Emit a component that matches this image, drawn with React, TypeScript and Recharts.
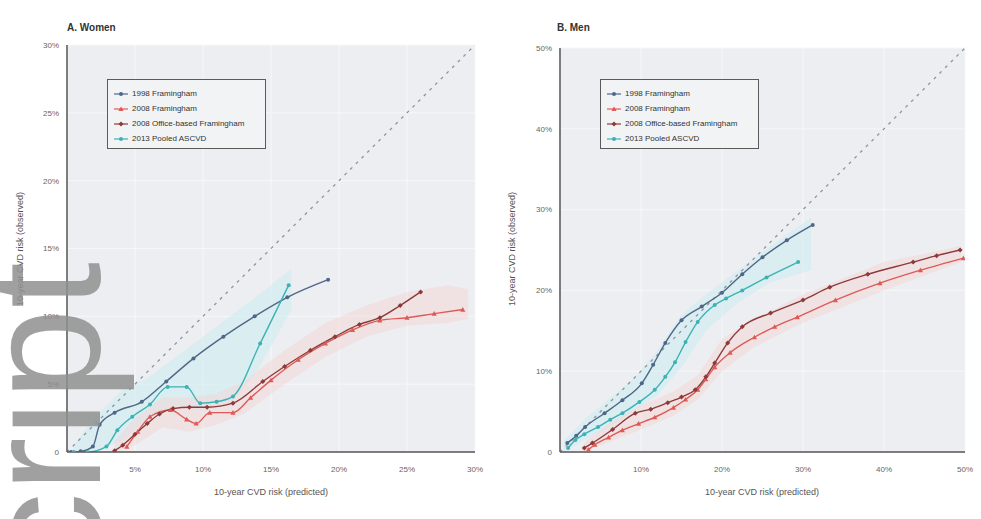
import React from 'react';
import { ComposedChart, Line, Area, XAxis, YAxis, CartesianGrid } from 'recharts';

const SERIES_NAMES = ['1998 Framingham', '2008 Framingham', '2008 Office-based Framingham', '2013 Pooled ASCVD'];
const COLORS = ['#4f6787', '#de5a56', '#8c3a3a', '#3db2b4'];
const SHAPES = ['circle', 'triangle', 'diamond', 'circle'];

const W_X_TICKS = [5, 10, 15, 20, 25, 30];
const W_Y_TICKS = [0, 5, 10, 15, 20, 25, 30];
const M_X_TICKS = [10, 20, 30, 40, 50];
const M_Y_TICKS = [0, 10, 20, 30, 40, 50];

// Women
const wF1998 = [
  { x: 0.3, y: 0 }, { x: 1.0, y: 0.05 }, { x: 1.9, y: 0.4 }, { x: 2.4, y: 2.0 }, { x: 3.5, y: 2.9 },
  { x: 5.5, y: 3.7 }, { x: 7.3, y: 5.2 }, { x: 9.3, y: 6.9 }, { x: 11.5, y: 8.5 }, { x: 13.8, y: 10.0 },
  { x: 16.2, y: 11.4 }, { x: 19.2, y: 12.7 },
];
const wF2008 = [
  { x: 4.4, y: 0.4 }, { x: 5.2, y: 1.5 }, { x: 6.1, y: 2.6 }, { x: 7.6, y: 3.1 }, { x: 8.8, y: 2.4 },
  { x: 9.5, y: 2.1 }, { x: 10.5, y: 2.9 }, { x: 12.2, y: 2.9 }, { x: 13.5, y: 4.0 }, { x: 15.0, y: 5.3 },
  { x: 17.0, y: 6.8 }, { x: 19.0, y: 8.0 }, { x: 21.0, y: 9.0 }, { x: 23.0, y: 9.7 }, { x: 25.0, y: 9.9 },
  { x: 27.0, y: 10.2 }, { x: 29.1, y: 10.5 },
];
const wOffice = [
  { x: 3.5, y: 0.1 }, { x: 4.1, y: 0.5 }, { x: 5.0, y: 1.3 }, { x: 5.9, y: 2.1 }, { x: 6.8, y: 2.8 },
  { x: 7.8, y: 3.2 }, { x: 9.0, y: 3.3 }, { x: 10.3, y: 3.3 }, { x: 12.2, y: 3.6 }, { x: 14.4, y: 5.2 },
  { x: 16.0, y: 6.3 }, { x: 17.9, y: 7.5 }, { x: 19.7, y: 8.5 }, { x: 21.5, y: 9.4 }, { x: 23.0, y: 9.9 },
  { x: 24.5, y: 10.8 }, { x: 26.0, y: 11.8 },
];
const wPooled = [
  { x: 0.5, y: 0 }, { x: 1.5, y: 0 }, { x: 2.9, y: 0.4 }, { x: 3.7, y: 1.6 }, { x: 4.8, y: 2.6 },
  { x: 6.1, y: 3.5 }, { x: 7.4, y: 4.8 }, { x: 8.8, y: 4.8 }, { x: 9.8, y: 3.6 }, { x: 11.0, y: 3.7 },
  { x: 12.2, y: 4.1 }, { x: 14.2, y: 8.0 }, { x: 16.3, y: 12.3 },
];
const wBlueBand = [
  { x: 0.5, lo: 0, hi: 0.5 }, { x: 2, lo: 0, hi: 2.5 }, { x: 4, lo: 0.8, hi: 4.5 }, { x: 6, lo: 2.5, hi: 5.5 },
  { x: 8, lo: 3.5, hi: 7 }, { x: 10, lo: 3, hi: 8.5 }, { x: 12, lo: 3.5, hi: 10 }, { x: 14, lo: 6, hi: 11.5 },
  { x: 16.5, lo: 10.5, hi: 13.5 },
];
const wRedBand = [
  { x: 3.5, lo: 0, hi: 0.8 }, { x: 5, lo: 0.5, hi: 2.5 }, { x: 7, lo: 1.8, hi: 4 }, { x: 9, lo: 1.5, hi: 4 },
  { x: 11, lo: 2, hi: 4.3 }, { x: 13, lo: 2.8, hi: 5.2 }, { x: 16, lo: 5, hi: 7.5 }, { x: 19, lo: 7, hi: 9.5 },
  { x: 22, lo: 8.5, hi: 10.8 }, { x: 25, lo: 9.3, hi: 11.8 }, { x: 28, lo: 9.5, hi: 12.3 }, { x: 29.5, lo: 9.8, hi: 12 },
];
const wDiagonal = [{ x: 0, y: 0 }, { x: 30, y: 30 }];

// Men
const mF1998 = [
  { x: 0.9, y: 1.1 }, { x: 2.0, y: 2.0 }, { x: 3.1, y: 3.1 }, { x: 5.5, y: 4.8 }, { x: 7.7, y: 6.4 },
  { x: 10.1, y: 8.5 }, { x: 11.5, y: 10.8 }, { x: 13.0, y: 13.5 }, { x: 15.0, y: 16.3 }, { x: 17.5, y: 18.0 },
  { x: 20.0, y: 19.7 }, { x: 22.5, y: 22.0 }, { x: 25.0, y: 24.1 }, { x: 28.0, y: 26.2 }, { x: 31.2, y: 28.1 },
];
const mF2008 = [
  { x: 3.5, y: 0.3 }, { x: 4.3, y: 0.9 }, { x: 6.0, y: 1.8 }, { x: 7.7, y: 2.7 }, { x: 9.7, y: 3.5 },
  { x: 11.7, y: 4.3 }, { x: 14.0, y: 5.5 }, { x: 15.5, y: 6.5 }, { x: 17.0, y: 7.7 }, { x: 18.0, y: 9.0 },
  { x: 19.1, y: 10.5 }, { x: 21.0, y: 12.3 }, { x: 24.0, y: 14.2 }, { x: 26.5, y: 15.5 }, { x: 29.3, y: 16.7 },
  { x: 34.0, y: 18.8 }, { x: 39.5, y: 20.9 }, { x: 44.5, y: 22.5 }, { x: 49.8, y: 24.0 },
];
const mOffice = [
  { x: 3.0, y: 0.5 }, { x: 4.0, y: 1.1 }, { x: 6.5, y: 2.8 }, { x: 9.3, y: 4.8 }, { x: 11.2, y: 5.3 },
  { x: 13.3, y: 6.1 }, { x: 15.0, y: 6.8 }, { x: 16.7, y: 7.7 }, { x: 18.0, y: 9.3 }, { x: 19.1, y: 11.0 },
  { x: 20.7, y: 13.5 }, { x: 22.5, y: 15.5 }, { x: 26.0, y: 17.2 }, { x: 30.0, y: 18.8 }, { x: 33.3, y: 20.4 },
  { x: 38.0, y: 22.0 }, { x: 43.6, y: 23.5 }, { x: 46.5, y: 24.3 }, { x: 49.4, y: 25.0 },
];
const mPooled = [
  { x: 1.0, y: 0.5 }, { x: 1.9, y: 1.5 }, { x: 3.0, y: 2.2 }, { x: 4.7, y: 3.1 }, { x: 6.2, y: 4.0 },
  { x: 7.7, y: 4.8 }, { x: 9.8, y: 6.2 }, { x: 11.7, y: 7.7 }, { x: 13.0, y: 9.3 }, { x: 14.2, y: 11.1 },
  { x: 15.5, y: 13.6 }, { x: 17.0, y: 16.1 }, { x: 19.1, y: 18.2 }, { x: 20.5, y: 19.0 }, { x: 22.5, y: 20.0 },
  { x: 25.5, y: 21.6 }, { x: 29.4, y: 23.5 },
];
const mBlueBand = [
  { x: 0.5, lo: 0, hi: 1.5 }, { x: 3, lo: 1.5, hi: 4 }, { x: 6, lo: 3, hi: 6.5 }, { x: 9, lo: 5, hi: 9 },
  { x: 12, lo: 7, hi: 12.5 }, { x: 15, lo: 10.5, hi: 17 }, { x: 18, lo: 15, hi: 19.5 }, { x: 22, lo: 18.5, hi: 22.5 },
  { x: 26, lo: 21, hi: 25.5 }, { x: 31, lo: 22.5, hi: 29 },
];
const mRedBand = [
  { x: 3, lo: 0, hi: 1.2 }, { x: 6, lo: 1.2, hi: 3.5 }, { x: 10, lo: 2.8, hi: 5.8 }, { x: 14, lo: 4.5, hi: 7.5 },
  { x: 17, lo: 6.5, hi: 9.5 }, { x: 20, lo: 10, hi: 14 }, { x: 24, lo: 13, hi: 16.5 }, { x: 30, lo: 16, hi: 19.5 },
  { x: 40, lo: 20, hi: 23.5 }, { x: 49.5, lo: 23.5, hi: 25.5 },
];
const mDiagonal = [{ x: 0, y: 0 }, { x: 50, y: 50 }];

const FONT = '"Liberation Sans", Arial, sans-serif';

function Marker({ shape, color, cx, cy, size = 2 }: any) {
  if (shape === 'triangle') {
    const s = size + 0.6;
    return <polygon points={`${cx},${cy - s} ${cx + s},${cy + s * 0.8} ${cx - s},${cy + s * 0.8}`} fill={color} />;
  }
  if (shape === 'diamond') {
    const s = size + 0.5;
    return <polygon points={`${cx},${cy - s} ${cx + s},${cy} ${cx},${cy + s} ${cx - s},${cy}`} fill={color} />;
  }
  return <circle cx={cx} cy={cy} r={size} fill={color} />;
}

const makeDot = (i: number) => (props: any) => {
  const { cx, cy, index } = props;
  if (cx == null || cy == null) return <g key={`d${i}-${index}`} />;
  return (
    <g key={`d${i}-${index}`}>
      <Marker shape={SHAPES[i]} color={COLORS[i]} cx={cx} cy={cy} />
    </g>
  );
};

const pct = (v: number) => (v === 0 ? '0' : `${v}%`);
const bandKey = (d: any) => [d.lo, d.hi];

function LegendBox({ left, top }: { left: number; top: number }) {
  return (
    <div
      style={{
        position: 'absolute', left, top, width: 159, height: 70, border: '1.5px solid #5a5a5a',
        background: '#f2f3f5', fontFamily: FONT, fontSize: 8, color: '#333', boxSizing: 'border-box',
        padding: '6px 0 0 6px',
      }}
    >
      {SERIES_NAMES.map((n, i) => (
        <div key={n} style={{ display: 'flex', alignItems: 'center', height: 15 }}>
          <svg width={14} height={10} style={{ marginRight: 4 }}>
            <line x1={0} y1={5} x2={14} y2={5} stroke={COLORS[i]} strokeWidth={1.2} />
            <Marker shape={SHAPES[i]} color={COLORS[i]} cx={7} cy={5} />
          </svg>
          <span>{n}</span>
        </div>
      ))}
    </div>
  );
}

function Panel(props: any) {
  const { width, margin, xMax, yMax, xTicks, yTicks, series, blueBand, redBand, diagonal } = props;
  return (
    <ComposedChart width={width} height={519} margin={margin}>
      <CartesianGrid fill="#eceef1" stroke="#f6f7f9" strokeWidth={1} />
      <XAxis
        dataKey="x" type="number" domain={[0, xMax]} ticks={xTicks} tickFormatter={pct}
        allowDataOverflow height={30} tickLine={false} tickMargin={8}
        axisLine={{ stroke: '#555', strokeWidth: 1.5 }}
        tick={{ fontSize: 8, fill: '#666', fontFamily: FONT }}
      />
      <YAxis
        dataKey="y" type="number" domain={[0, yMax]} ticks={yTicks} tickFormatter={pct}
        allowDataOverflow width={40} tickLine={false}
        axisLine={{ stroke: '#555', strokeWidth: 1.5 }}
        tick={{ fontSize: 8, fill: '#666', fontFamily: FONT }}
      />
      <Area data={blueBand} dataKey={bandKey} stroke="none" fill="#c6ecf2" fillOpacity={0.45} isAnimationActive={false} />
      <Area data={redBand} dataKey={bandKey} stroke="none" fill="#f7d2d2" fillOpacity={0.45} isAnimationActive={false} />
      <Line data={diagonal} dataKey="y" stroke="#8b949e" strokeWidth={1.3} strokeDasharray="3 5" dot={false} isAnimationActive={false} />
      {series.map((s: any[], i: number) => (
        <Line
          key={SERIES_NAMES[i]} data={s} dataKey="y" name={SERIES_NAMES[i]} stroke={COLORS[i]} strokeWidth={1.4}
          type="monotone" dot={makeDot(i)} isAnimationActive={false}
        />
      ))}
    </ComposedChart>
  );
}

export default function App() {
  const titleStyle: any = { position: 'absolute', fontFamily: FONT, fontSize: 10, color: '#333', fontWeight: 'bold' };
  const xLabelStyle: any = { position: 'absolute', fontFamily: FONT, fontSize: 9, color: '#555', width: 300, textAlign: 'center' };
  const yLabelStyle: any = {
    position: 'absolute', fontFamily: FONT, fontSize: 9, color: '#555', width: 300, textAlign: 'center',
    transform: 'rotate(-90deg)', transformOrigin: 'center center',
  };
  return (
    <div style={{ position: 'absolute', left: 0, top: 0, width: 981, height: 519, background: '#fff', overflow: 'hidden' }}>
      <div style={{ position: 'absolute', left: 0, top: 0 }}>
        <Panel
          width={490} margin={{ top: 45, right: 15, bottom: 37, left: 27 }} xMax={30} yMax={30}
          xTicks={W_X_TICKS} yTicks={W_Y_TICKS} series={[wF1998, wF2008, wOffice, wPooled]}
          blueBand={wBlueBand} redBand={wRedBand} diagonal={wDiagonal}
        />
      </div>
      <div style={{ position: 'absolute', left: 490, top: 0 }}>
        <Panel
          width={491} margin={{ top: 48, right: 16, bottom: 37, left: 30 }} xMax={50} yMax={50}
          xTicks={M_X_TICKS} yTicks={M_Y_TICKS} series={[mF1998, mF2008, mOffice, mPooled]}
          blueBand={mBlueBand} redBand={mRedBand} diagonal={mDiagonal}
        />
      </div>
      <div style={{ ...titleStyle, left: 67, top: 22 }}>A. Women</div>
      <div style={{ ...titleStyle, left: 557, top: 22 }}>B. Men</div>
      <LegendBox left={107} top={79} />
      <LegendBox left={600} top={79} />
      <div style={{ ...xLabelStyle, left: 121, top: 487 }}>10-year CVD risk (predicted)</div>
      <div style={{ ...xLabelStyle, left: 612, top: 487 }}>10-year CVD risk (predicted)</div>
      <div style={{ ...yLabelStyle, left: 20 - 150, top: 244 }}>10-year CVD risk (observed)</div>
      <div style={{ ...yLabelStyle, left: 512 - 150, top: 244 }}>10-year CVD risk (observed)</div>
      <svg width={981} height={519} style={{ position: 'absolute', left: 0, top: 0, pointerEvents: 'none' }}>
        <text
          transform="translate(100, 262) rotate(-90)" textAnchor="end" fontSize={166}
          fontFamily={FONT} fill="#8f8f8f" fillOpacity={0.85}
        >
          script
        </text>
      </svg>
    </div>
  );
}
